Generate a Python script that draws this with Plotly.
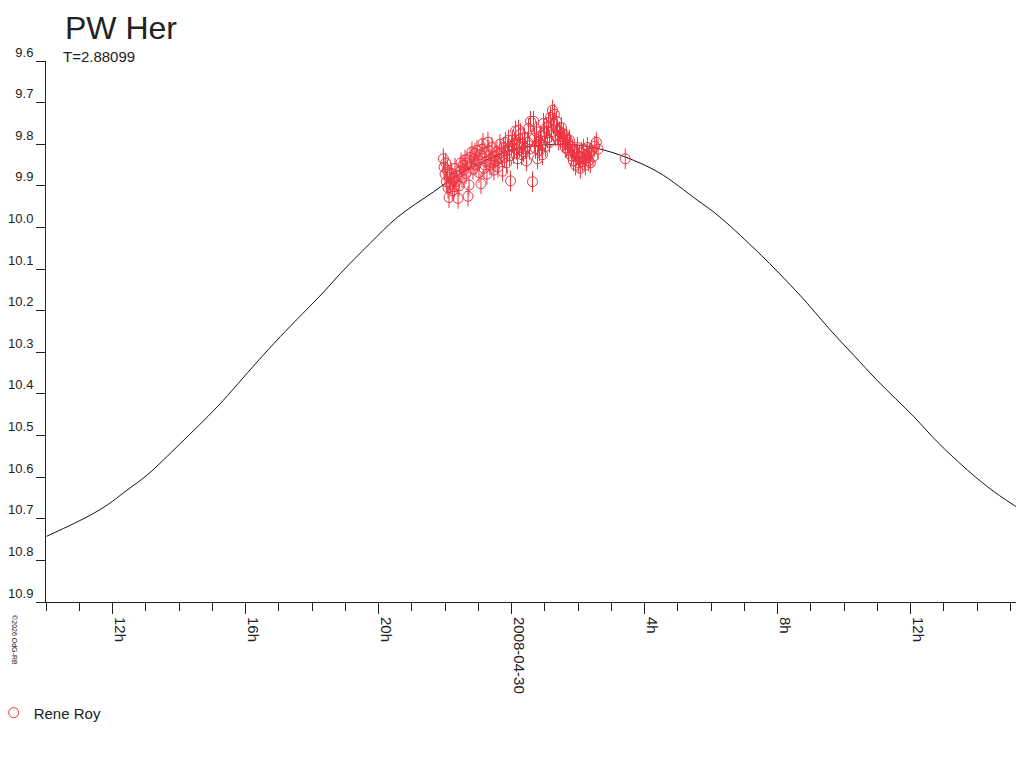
import plotly.graph_objects as go

# hours relative to 2008-04-30 00:00 UT, magnitudes
obs_hours = [
    -2.05, -2.03, -2.00, -1.98, -1.96, -1.93, -1.91, -1.88, -1.86, -1.83, -1.80, -1.78,
    -1.75, -1.72, -1.70, -1.67, -1.64, -1.61, -1.58, -1.55, -1.52,
    -1.49, -1.46, -1.43, -1.40, -1.37, -1.34, -1.31, -1.28, -1.25, -1.22, -1.19, -1.16,
    -1.13, -1.10, -1.07, -1.04, -1.01, -0.98, -0.95, -0.92, -0.89, -0.86, -0.83, -0.80,
    -0.77, -0.74, -0.71, -0.68, -0.65, -0.62, -0.59, -0.56, -0.53, -0.50, -0.47, -0.44,
    -0.41, -0.38, -0.35,
    -0.30, -0.27, -0.24, -0.21, -0.18, -0.15, -0.12, -0.09, -0.06, -0.03, 0.00, 0.03,
    0.06, 0.09, 0.12, 0.15, 0.18, 0.21, 0.24, 0.27, 0.30, 0.33, 0.36, 0.39, 0.42, 0.45,
    0.48, 0.51, 0.54, 0.57, 0.63, 0.66, 0.69, 0.72, 0.75, 0.78, 0.81, 0.84, 0.87,
    0.90, 0.93, 0.96,
    0.99, 1.02, 1.05, 1.08, 1.11, 1.14, 1.17, 1.20, 1.23, 1.26, 1.29, 1.32, 1.35, 1.38,
    1.41, 1.44, 1.47, 1.50, 1.53, 1.56, 1.59, 1.62, 1.65, 1.68, 1.71, 1.74,
    1.77, 1.80, 1.83, 1.86, 1.89, 1.92, 1.95, 1.98, 2.01, 2.04, 2.07, 2.10, 2.13, 2.16,
    2.19, 2.22, 2.25, 2.28, 2.31, 2.34, 2.37, 2.40, 2.45, 2.50, 2.55, 2.60,
    3.42,
]
obs_mag = [
    9.835, 9.855, 9.872, 9.845, 9.890, 9.862, 9.905, 9.928, 9.880, 9.896, 9.870, 9.912,
    9.885, 9.902, 9.858, 9.890, 9.875, 9.930, 9.900, 9.865, 9.845,
    9.880, 9.850, 9.862, 9.838, 9.870, 9.845, 9.925, 9.898, 9.832, 9.848, 9.818, 9.860,
    9.835, 9.822, 9.850, 9.815, 9.840, 9.868, 9.825, 9.895, 9.812, 9.798, 9.858, 9.820,
    9.842, 9.872, 9.795, 9.815, 9.850, 9.835, 9.808, 9.845, 9.862, 9.828, 9.840, 9.818,
    9.855, 9.835, 9.800,
    9.820, 9.865, 9.808, 9.832, 9.795, 9.845, 9.815, 9.790, 9.828, 9.888, 9.805, 9.790,
    9.822, 9.798, 9.768, 9.812, 9.835, 9.766, 9.808, 9.775, 9.825, 9.800, 9.818, 9.785,
    9.810, 9.840, 9.795, 9.762, 9.812, 9.745, 9.890, 9.745, 9.785, 9.810, 9.770, 9.835,
    9.795, 9.815, 9.780, 9.800, 9.825, 9.750,
    9.770, 9.805, 9.760, 9.785, 9.748, 9.795, 9.735, 9.770, 9.718, 9.752, 9.728, 9.780,
    9.745, 9.765, 9.790, 9.770, 9.782, 9.760, 9.795, 9.775, 9.790, 9.808, 9.785, 9.800,
    9.815, 9.790,
    9.805, 9.828, 9.812, 9.840, 9.818, 9.850, 9.825, 9.808, 9.845, 9.830, 9.858, 9.820,
    9.842, 9.812, 9.835, 9.850, 9.825, 9.808, 9.840, 9.822, 9.845, 9.815, 9.830, 9.805,
    9.795, 9.812,
    9.835,
]
obs_err = 0.025

# fitted light curve
curve_hours = [-13.98, -13.36, -12.66, -12.16, -11.56, -10.96, -9.96, -8.85, -7.65, -6.95,
               -5.65, -5.14, -4.24, -3.44, -2.34, -1.53, -0.03, 0.96, 1.47, 1.98, 2.68,
               3.43, 4.43, 5.58, 6.19, 7.29, 8.19, 8.89, 9.59, 10.29, 11.00, 12.10, 12.80,
               13.71, 14.51, 15.41]
curve_mag = [10.742, 10.719, 10.691, 10.667, 10.631, 10.595, 10.519, 10.431, 10.323, 10.262,
             10.155, 10.110, 10.037, 9.976, 9.914, 9.870, 9.814, 9.802, 9.800, 9.802, 9.812,
             9.831, 9.868, 9.934, 9.970, 10.050, 10.122, 10.182, 10.247, 10.307, 10.368,
             10.455, 10.515, 10.583, 10.635, 10.683]

tick_hours = [-12, -8, -4, 0, 4, 8, 12]
tick_text = ['12h', '16h', '20h', '2008-04-30', '4h', '8h', '12h']
mag_ticks = [9.6, 9.7, 9.8, 9.9, 10.0, 10.1, 10.2, 10.3, 10.4, 10.5, 10.6, 10.7, 10.8, 10.9]

red = '#ee3340'
axis_col = '#222222'
font = 'Liberation Sans, Arial, sans-serif'

fig = go.Figure()
fig.add_trace(go.Scatter(
    x=curve_hours, y=curve_mag, mode='lines', line=dict(color='#111111', width=1, shape='spline'),
    showlegend=False, hoverinfo='skip'
))
fig.add_trace(go.Scatter(
    x=obs_hours, y=obs_mag, mode='markers', name='Rene Roy',
    marker=dict(symbol='circle-open', size=10, color=red, line=dict(width=1, color=red)),
    error_y=dict(type='constant', value=obs_err, color=red, thickness=1, width=0),
))

# page is shown with an 8px body margin, so everything is pulled up/left by 8px
fig.update_layout(
    width=1024, height=768,
    margin=dict(l=38, r=8, t=53, b=174, autoexpand=False),
    paper_bgcolor='white', plot_bgcolor='white',
    font=dict(family=font, size=15, color='#222222'),
    title=dict(text='PW Her', x=57 / 1024, xref='container', xanchor='left',
               y=1 - 20 / 768, yref='container', yanchor='middle',
               font=dict(size=32, color='#222222')),
    showlegend=True,
    legend=dict(x=-0.0535, xanchor='left', y=-0.205, yanchor='middle',
                font=dict(size=15), bgcolor='rgba(0,0,0,0)', itemwidth=30),
    annotations=[
        dict(text='T=2.88099', x=15 / 978, xref='paper', xanchor='left',
             y=1 + 4 / 541, yref='paper', yanchor='middle', showarrow=False,
             font=dict(size=15)),
        dict(text='©2026 OdG-RB', xref='paper', yref='paper', x=-0.033, y=-0.02,
             xanchor='center', yanchor='top', textangle=90, showarrow=False,
             font=dict(size=7, color='#222222')),
    ],
)

fig.update_xaxes(
    range=[-14.0, 15.41], showgrid=False, zeroline=False, automargin=False,
    showline=True, linecolor=axis_col, linewidth=1,
    tickmode='array', tickvals=tick_hours, ticktext=tick_text,
    ticks='outside', ticklen=11, tickcolor=axis_col, tickangle=90,
    tickfont=dict(size=15), ticklabelshift=7,
    minor=dict(dtick=1, tick0=0, ticks='outside', ticklen=8, tickcolor=axis_col, showgrid=False),
)
fig.update_yaxes(
    range=[10.9, 9.6], showgrid=False, zeroline=False, automargin=False,
    showline=True, linecolor=axis_col, linewidth=1,
    tickmode='array', tickvals=mag_ticks, ticktext=[f'{v:.1f}' for v in mag_ticks],
    ticks='outside', ticklen=9, tickcolor=axis_col,
    tickfont=dict(size=13), ticklabelshift=9, ticklabelstandoff=0,
)

fig.write_html('out.html')
